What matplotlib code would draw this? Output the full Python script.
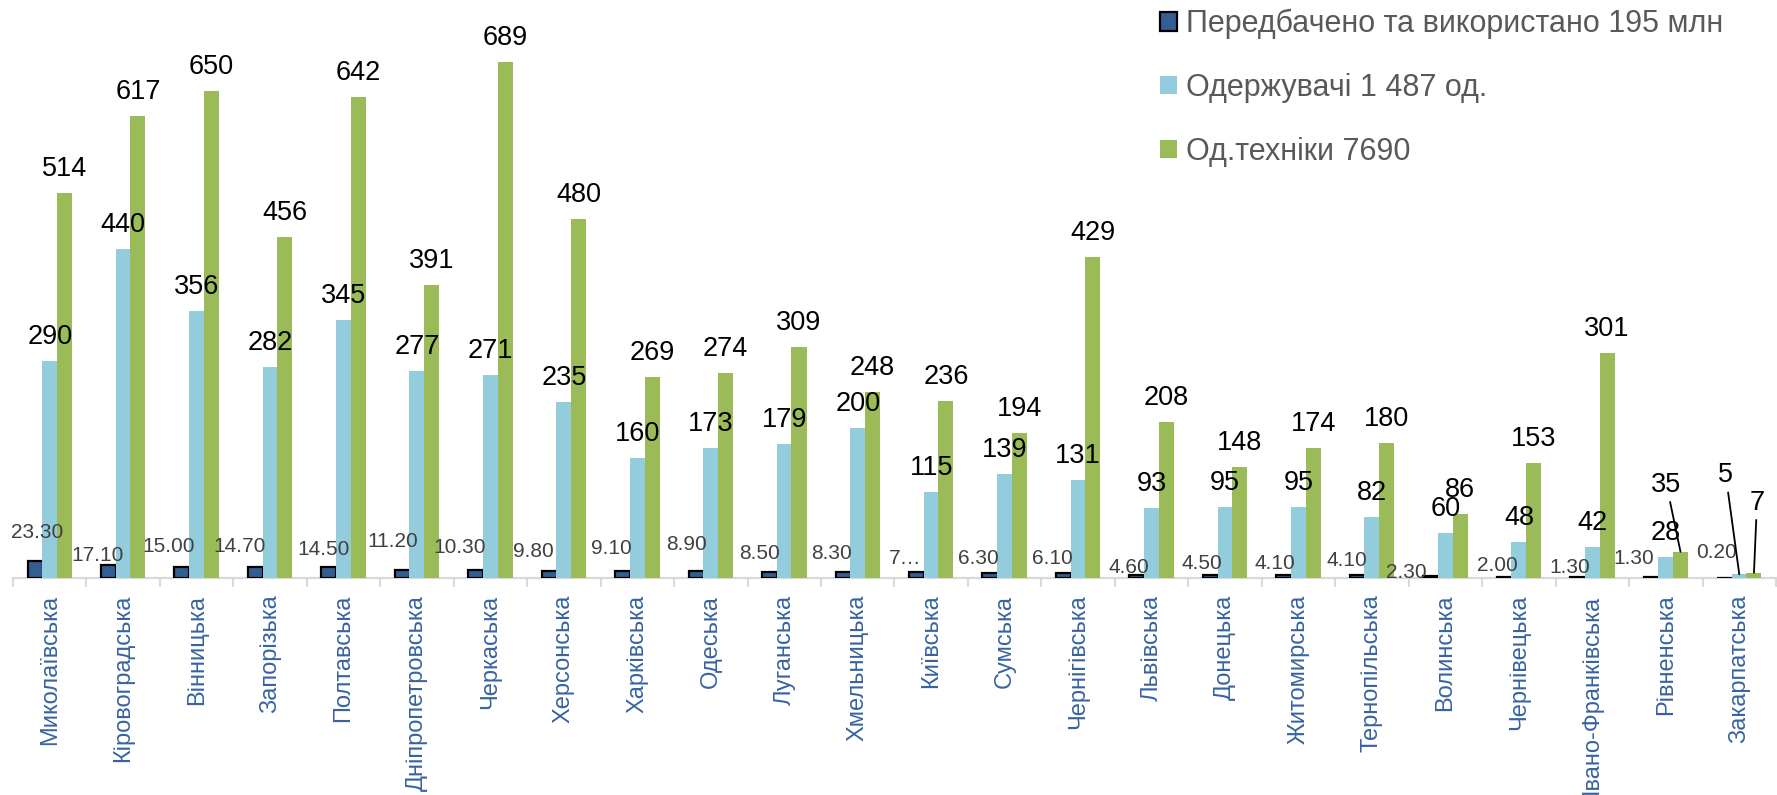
import matplotlib
matplotlib.use("Agg")
import matplotlib.pyplot as plt
import numpy as np

plt.rcParams['font.family'] = ['Liberation Sans', 'DejaVu Sans']

regions = ["Миколаївська", "Кіровоградська", "Вінницька", "Запорізька", "Полтавська",
           "Дніпропетровська", "Черкаська", "Херсонська", "Харківська", "Одеська",
           "Луганська", "Хмельницька", "Київська", "Сумська", "Чернігівська",
           "Львівська", "Донецька", "Житомирська", "Тернопільська", "Волинська",
           "Чернівецька", "Івано-Франківська", "Рівненська", "Закарпатська"]
funds = [23.30, 17.10, 15.00, 14.70, 14.50, 11.20, 10.30, 9.80, 9.10, 8.90, 8.50, 8.30,
         7.50, 6.30, 6.10, 4.60, 4.50, 4.10, 4.10, 2.30, 2.00, 1.30, 1.30, 0.20]
recipients = [290, 440, 356, 282, 345, 277, 271, 235, 160, 173, 179, 200,
              115, 139, 131, 93, 95, 95, 82, 60, 48, 42, 28, 5]
machines = [514, 617, 650, 456, 642, 391, 689, 480, 269, 274, 309, 248,
            236, 194, 429, 208, 148, 174, 180, 86, 153, 301, 35, 7]
series_names = ["Передбачено та використано 195 млн", "Одержувачі 1 487 од.", "Од.техніки 7690"]

# label placement tweaks (pixels) for the small dark-bar labels
dark_dx = [2, -10.5, -13.5, -15.5, -5.5, -10, -16, -15.5, -11, -10, -10.5, -12,
           -11, -11.5, -11, -8, -8, -8.5, -10, -24, -7, -8, -17, -8]
dark_dy = [23, 4, 15, 15, 12, 23, 17, 14, 17, 21, 13, 13, 8, 9, 9, 2, 6, 6, 9, -2, 6, 4, 13, 20]
truncated_dark = {12}  # label shown truncated ("7…") in the original

c_dark = '#335E91'
c_blue = '#93CDDD'
c_green = '#9BBB59'

W, H = 1777, 795
fig = plt.figure(figsize=(W / 100, H / 100), dpi=100)
ax = fig.add_axes([13 / W, (H - 578) / H, (1776 - 13) / W, 578 / H])

x = np.arange(len(regions))
bw = 0.205
b1 = ax.bar(x - 0.2, funds, bw, color=c_dark, edgecolor='black', linewidth=1.6, zorder=3)
b2 = ax.bar(x, recipients, bw, color=c_blue, edgecolor='none', zorder=3)
b3 = ax.bar(x + 0.2, machines, bw, color=c_green, edgecolor='none', zorder=3)

ax.set_xlim(-0.5, len(regions) - 0.5)
ax.set_ylim(0, 772)

# dark labels
for i, v in enumerate(funds):
    txt = f"{v:.2f}"
    if i in truncated_dark:
        txt = txt[0] + "…"
    ax.annotate(txt, xy=(i - 0.2, v), xytext=(dark_dx[i], dark_dy[i]),
                textcoords='offset pixels', ha='center', va='baseline',
                fontsize=15, color='#404040', zorder=5)

special = {('g', 22): (-14, 60), ('b', 23): (-13.5, 92), ('g', 23): (3, 63)}

for key, vals, off in (('b', recipients, 0.0), ('g', machines, 0.2)):
    for i, v in enumerate(vals):
        if (key, i) in special:
            dx, dy = special[(key, i)]
            ax.annotate(f"{v}", xy=(i + off, v), xytext=(dx, dy),
                        textcoords='offset pixels', ha='center', va='baseline',
                        fontsize=19.5, color='black', zorder=5,
                        arrowprops=dict(arrowstyle='-', color='black', lw=1.3,
                                        shrinkA=1, shrinkB=0))
        else:
            ax.annotate(f"{v}", xy=(i + off, v), xytext=(0, 17),
                        textcoords='offset pixels', ha='center', va='baseline',
                        fontsize=19.5, color='black', zorder=5)

# axes styling
for s in ('left', 'top', 'right'):
    ax.spines[s].set_visible(False)
ax.spines['bottom'].set_color('#D9D9D9')
ax.spines['bottom'].set_linewidth(1.6)
ax.set_yticks([])
ax.set_xticks(x)
ax.set_xticklabels(regions, rotation=90, fontsize=17, color='#3763A0', va='top', ha='center')
ax.tick_params(axis='x', which='major', length=0, pad=12)
ax.set_xticks(np.arange(-0.5, len(regions) + 0.5, 1), minor=True)
ax.tick_params(axis='x', which='minor', length=6.5, width=1.5, color='#D9D9D9')

leg = ax.legend([b1, b2, b3], series_names, loc='upper left',
                bbox_to_anchor=(1160 / W, 1 - 9 / H), bbox_transform=fig.transFigure,
                frameon=False, fontsize=22, handlelength=0.55, handleheight=0.55,
                handletextpad=0.3, labelspacing=1.1, borderpad=0, borderaxespad=0)
for t in leg.get_texts():
    t.set_color('#595959')

fig.savefig('out.png', dpi=100)
